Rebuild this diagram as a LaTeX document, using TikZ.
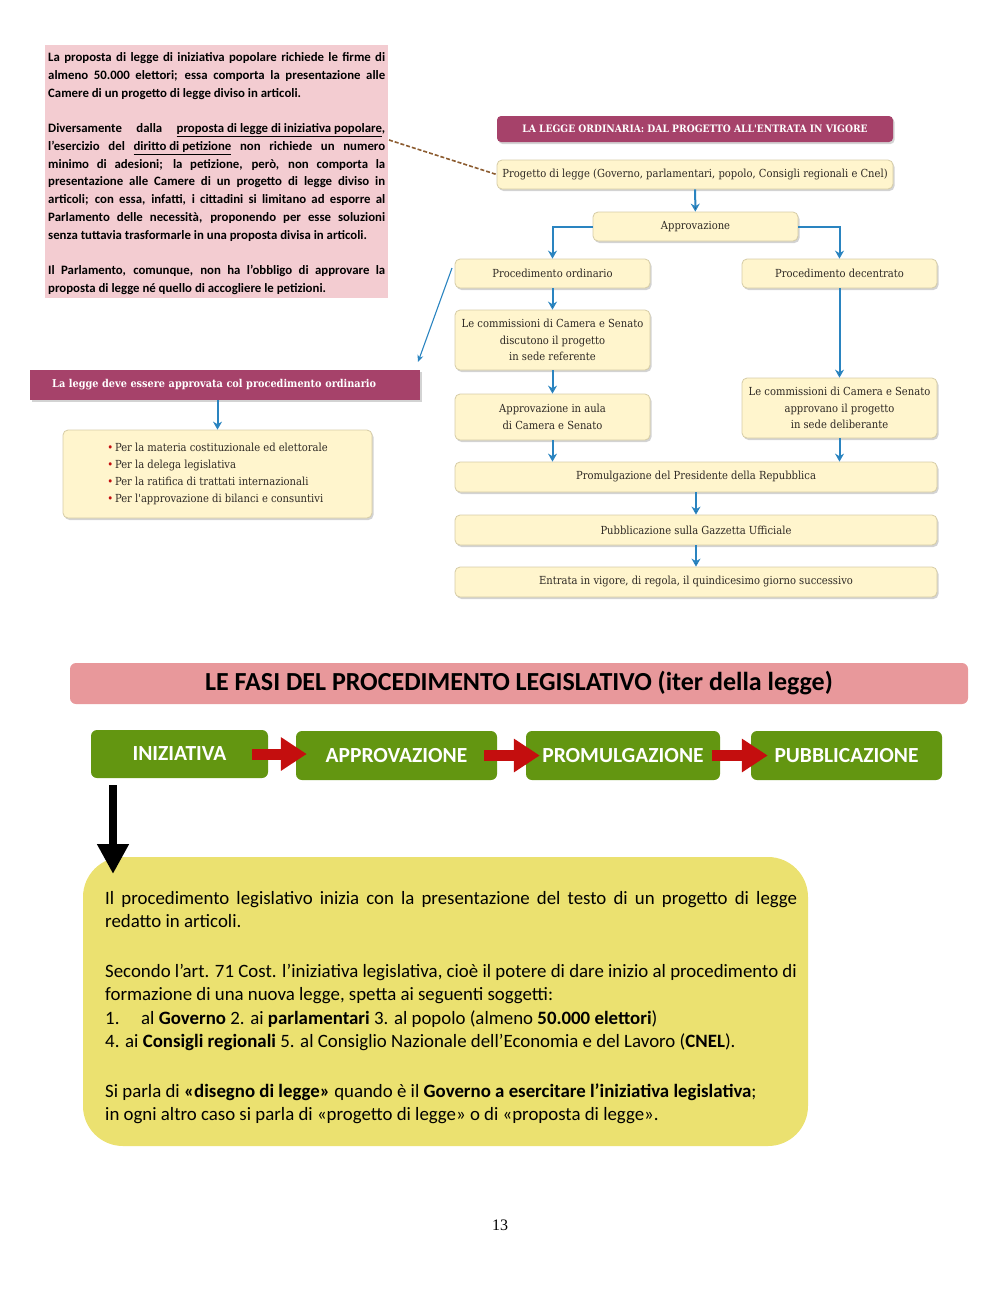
\documentclass[tikz,border=0pt]{standalone}
\usepackage{fontspec}
\setmainfont{Carlito}
\newfontfamily\libro{DejaVu Serif Condensed}
\newfontfamily\pagina{Liberation Serif}
\usetikzlibrary{arrows.meta, shapes, positioning, shadows, calc}
\definecolor{RosaNota}{RGB}{243,204,209}
\definecolor{Magenta}{RGB}{166,66,106}
\definecolor{Crema}{RGB}{255,245,205}
\definecolor{CremaBordo}{RGB}{214,204,166}
\definecolor{Blu}{RGB}{42,132,192}
\definecolor{Marrone}{RGB}{140,92,48}
\definecolor{RosaFasi}{RGB}{232,152,155}
\definecolor{Verde}{RGB}{99,150,17}
\definecolor{Rosso}{RGB}{196,14,14}
\definecolor{Giallo}{RGB}{235,225,112}
\definecolor{Testo}{RGB}{45,40,35}
\newcommand{\sotto}[1]{$\underline{\mbox{#1}}$}

\begin{document}
\begin{tikzpicture}[x=1pt, y=-1pt,
    crema/.style={shape=rectangle, rounded corners=5pt, fill=Crema, draw=CremaBordo, line width=0.8pt,
        drop shadow={shadow xshift=1.5pt, shadow yshift=-2pt, opacity=0.35}, text=Testo,
        font=\libro\fontsize{11.1}{16.8}\selectfont, align=center, inner sep=2pt},
    titolo/.style={shape=rectangle, rounded corners=4pt, fill=Magenta, text=white,
        drop shadow={shadow xshift=1.5pt, shadow yshift=-2pt, opacity=0.35},
        font=\libro\bfseries\fontsize{10.2}{12}\selectfont},
    fase/.style={shape=rectangle, rounded corners=6pt, fill=Verde, text=white,
        font=\bfseries\fontsize{21.5}{24}\selectfont, inner sep=0pt},
    freccia/.style={draw=Blu, line width=2pt, -{Stealth[length=8pt, width=9pt]}},
    passo/.style={draw=Rosso, line width=11pt, -{Triangle[length=26pt, width=32pt]}}]
    \useasboundingbox (0,0) rectangle (1000,1294);

    % nota sulla proposta popolare
    \node[shape=rectangle, fill=RosaNota, anchor=north west, inner xsep=3pt, inner ysep=3pt,
        text width=337pt, align=justify, font=\bfseries\fontsize{12.8}{17.75}\selectfont]
        (nota) at (45,45) {\rule{0pt}{13.5pt}La proposta di legge di iniziativa popolare richiede le firme di\linebreak
        almeno 50.000 elettori; essa comporta la presentazione alle\linebreak
        Camere di un progetto di legge diviso in articoli.\par\vspace{17.75pt}
        Diversamente dalla \sotto{proposta di legge di iniziativa popolare},\linebreak
        l'esercizio del \sotto{diritto di petizione} non richiede un numero\linebreak
        minimo di adesioni; la petizione, però, non comporta la\linebreak
        presentazione alle Camere di un progetto di legge diviso in\linebreak
        articoli; con essa, infatti, i cittadini si limitano ad esporre al\linebreak
        Parlamento delle necessità, proponendo per esse soluzioni\linebreak
        senza tuttavia trasformarle in una proposta divisa in articoli.\par\vspace{17.75pt}
        Il Parlamento, comunque, non ha l'obbligo di approvare la\linebreak
        proposta di legge né quello di accogliere le petizioni.};
    \coordinate (popolare) at (389,140);

    % la legge ordinaria
    \node[titolo, minimum width=396pt, minimum height=26pt] (ordtit) at (695,129) {LA LEGGE ORDINARIA: DAL PROGETTO ALL'ENTRATA IN VIGORE};
    \node[crema, minimum width=396pt, minimum height=29pt] (prog) at (695,174.5) {Progetto di legge (Governo, parlamentari, popolo, Consigli regionali e Cnel)};
    \node[crema, minimum width=205pt, minimum height=29pt] (appr) at (695.5,226.5) {Approvazione};
    \node[crema, minimum width=195pt, minimum height=29pt] (ord) at (552.5,273.5) {Procedimento ordinario};
    \node[crema, minimum width=195pt, minimum height=29pt] (dec) at (839.5,273.5) {Procedimento decentrato};
    \node[crema, minimum width=195pt, minimum height=60pt] (refer) at (552.5,340) {Le commissioni di Camera e Senato\\discutono il progetto\\in sede referente};
    \node[crema, minimum width=195pt, minimum height=46pt] (aula) at (552.5,417) {Approvazione in aula\\di Camera e Senato};
    \node[crema, minimum width=195pt, minimum height=60pt] (delib) at (839.5,408) {Le commissioni di Camera e Senato\\approvano il progetto\\in sede deliberante};
    \node[crema, minimum width=482pt, minimum height=30pt] (promul) at (696,477) {Promulgazione del Presidente della Repubblica};
    \node[crema, minimum width=482pt, minimum height=30pt] (pubbl) at (696,530) {Pubblicazione sulla Gazzetta Ufficiale};
    \node[crema, minimum width=482pt, minimum height=30pt] (vigore) at (696,582) {Entrata in vigore, di regola, il quindicesimo giorno successivo};

    \path[freccia] (prog) edge (appr);
    \draw[freccia] (appr.west) -| (ord.north);
    \draw[freccia] (appr.east) -| (dec.north);
    \path[freccia] (ord) edge (refer);
    \path[freccia] (refer) edge (aula);
    \path[freccia] (dec) edge (delib);
    \draw[freccia] (aula.south) -- (aula.south |- promul.north);
    \draw[freccia] (delib.south) -- (delib.south |- promul.north);
    \path[freccia] (promul) edge (pubbl);
    \path[freccia] (pubbl) edge (vigore);
    \draw[Marrone, line width=1.6pt, dash pattern=on 4pt off 2pt] (popolare) -- (prog.west);

    % procedimento ordinario obbligatorio
    \node[titolo, rounded corners=0pt, minimum width=390pt, minimum height=30pt, anchor=west,
        inner xsep=22pt, text width=346pt, font=\libro\bfseries\fontsize{10.8}{13}\selectfont] (obbligo) at (30,385)
        {La legge deve essere approvata col procedimento ordinario};
    \node[crema, minimum width=309pt, minimum height=88pt, align=left] (casi) at (217.5,474)
        {{\color{Rosso}\textbullet}\,Per la materia costituzionale ed elettorale\\
         {\color{Rosso}\textbullet}\,Per la delega legislativa\\
         {\color{Rosso}\textbullet}\,Per la ratifica di trattati internazionali\\
         {\color{Rosso}\textbullet}\,Per l'approvazione di bilanci e consuntivi};
    \coordinate (daord) at (452,268);
    \coordinate (aobbligo) at (418,362);
    \draw[draw=Blu, line width=1.1pt, -{Stealth[length=7pt, width=6pt, open]}] (daord) -- (aobbligo);
    \draw[freccia] (casi.north |- obbligo.south) -- (casi.north);

    % le fasi del procedimento legislativo
    \node[shape=rectangle, rounded corners=6pt, fill=RosaFasi, minimum width=898pt, minimum height=41pt,
        font=\bfseries\fontsize{26}{28}\selectfont] (fasi) at (519,683.5)
        {LE FASI DEL PROCEDIMENTO LEGISLATIVO (iter della legge)};
    \node[fase, minimum width=177pt, minimum height=48pt] (iniz) at (179.5,754) {INIZIATIVA};
    \node[fase, minimum width=201pt, minimum height=49pt] (fapp) at (396.5,755.5) {APPROVAZIONE};
    \node[fase, minimum width=194pt, minimum height=49pt] (fprom) at (623,755.5) {PROMULGAZIONE};
    \node[fase, minimum width=191pt, minimum height=49pt] (fpubb) at (846.5,755.5) {PUBBLICAZIONE};
    \draw[passo, shorten <=-16pt, shorten >=-11pt] (iniz.east) -- (iniz.east -| fapp.west);
    \draw[passo, shorten <=-13pt, shorten >=-14pt] (fapp.east) -- (fprom.west);
    \draw[passo, shorten <=-8pt, shorten >=-17pt] (fprom.east) -- (fpubb.west);

    \node[shape=rectangle, rounded corners=40pt, fill=Giallo, minimum width=725pt, minimum height=289pt]
        (iniziativa) at (445.5,1001.5) {};
    \node[anchor=north west, inner sep=0pt, text width=692pt, align=justify, font=\fontsize{18.85}{23.5}\selectfont]
        (soggetti) at (105,891)
        {Il procedimento legislativo inizia con la presentazione del testo di un progetto di legge\linebreak
        redatto in articoli.\par\vspace{26pt}
        Secondo l'art. 71 Cost. l'iniziativa legislativa, cioè il potere di dare inizio al procedimento di\\
        formazione di una nuova legge, spetta ai seguenti soggetti:\\
        1.\hspace{1.15em}al \textbf{Governo} 2. ai \textbf{parlamentari} 3. al popolo (almeno \textbf{50.000 elettori})\\
        4. ai \textbf{Consigli regionali} 5. al Consiglio Nazionale dell'Economia e del Lavoro (\textbf{CNEL}).\par\vspace{26pt}
        Si parla di \textbf{«disegno di legge»} quando è il \textbf{Governo a esercitare l'iniziativa legislativa};\\
        in ogni altro caso si parla di «progetto di legge» o di «proposta di legge».};
    \coordinate (punta) at (113,874);
    \draw[line width=8pt, -{Triangle[length=30pt, width=30pt]}, shorten <=7pt] (iniz.south -| punta) -- (punta);

    % numero di pagina
    \node[font=\pagina\fontsize{16}{18}\selectfont] (pagina) at (500,1225) {13};
\end{tikzpicture}
\end{document}
